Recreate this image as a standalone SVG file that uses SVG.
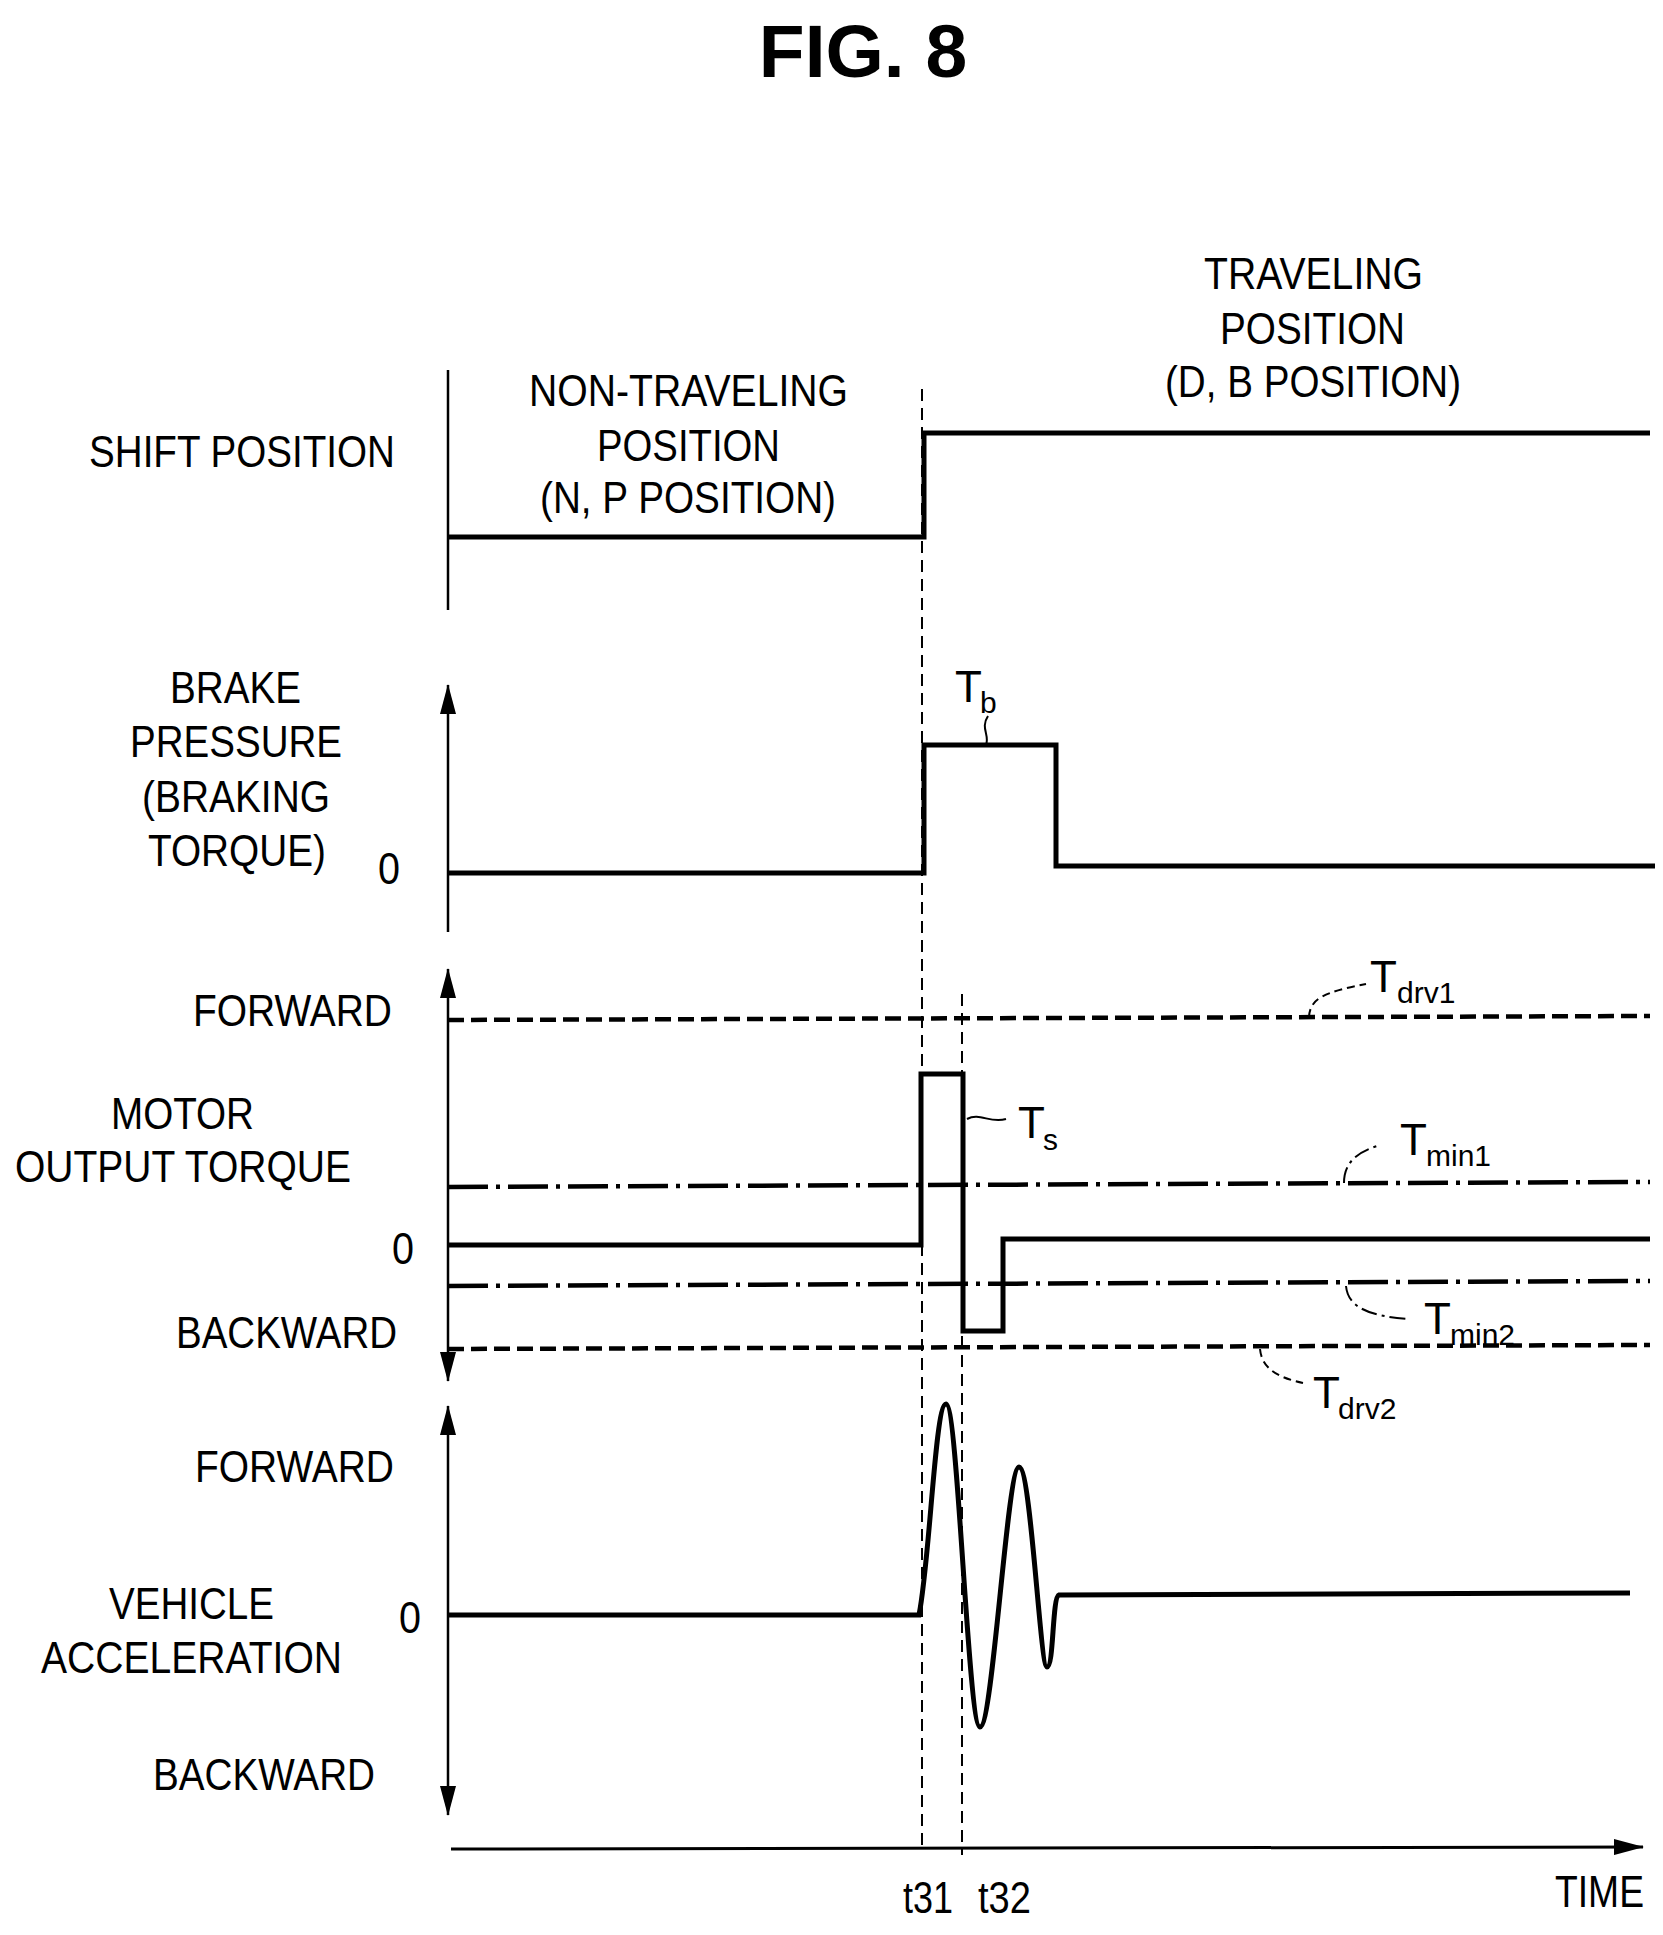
<svg xmlns="http://www.w3.org/2000/svg" width="1663" height="1935" viewBox="0 0 1663 1935">
<style>
text{font-family:"Liberation Sans",Arial,sans-serif;font-size:44px;fill:#000}
.t{font-size:44px}
.s{font-size:30px}
.w{fill:none;stroke:#000;stroke-width:5}
.ax{fill:none;stroke:#000;stroke-width:2.5}
.vd{fill:none;stroke:#000;stroke-width:2;stroke-dasharray:12 7}
.dd{fill:none;stroke:#000;stroke-width:4.5;stroke-dasharray:16 7}
.dc{fill:none;stroke:#000;stroke-width:4.5;stroke-dasharray:40 8 4 8}
.ld{fill:none;stroke:#000;stroke-width:2;stroke-dasharray:8 5}
.ldc{fill:none;stroke:#000;stroke-width:2;stroke-dasharray:16 5 3 5}
.l{fill:none;stroke:#000;stroke-width:2}
</style>
<defs>
<marker id="ah" viewBox="0 0 30 16" refX="29" refY="8" markerWidth="30" markerHeight="16" markerUnits="userSpaceOnUse" orient="auto-start-reverse"><path d="M0,0 L30,8 L0,16 z" fill="#000"/></marker>
</defs>
<text x="863" y="77" text-anchor="middle" style="font-size:75px;font-weight:bold">FIG. 8</text>

<g id="shift">
<text x="89" y="467" textLength="306" lengthAdjust="spacingAndGlyphs">SHIFT POSITION</text>
<text x="529" y="406" textLength="319" lengthAdjust="spacingAndGlyphs">NON-TRAVELING</text>
<text x="597" y="461" textLength="183" lengthAdjust="spacingAndGlyphs">POSITION</text>
<text x="540" y="513" textLength="296" lengthAdjust="spacingAndGlyphs">(N, P POSITION)</text>
<text x="1204" y="289" textLength="219" lengthAdjust="spacingAndGlyphs">TRAVELING</text>
<text x="1220" y="344" textLength="185" lengthAdjust="spacingAndGlyphs">POSITION</text>
<text x="1165" y="397" textLength="296" lengthAdjust="spacingAndGlyphs">(D, B POSITION)</text>
<line class="ax" x1="448" y1="370" x2="448" y2="610"/>
<polyline class="w" points="448,537 924,537 924,433 1650,433"/>
</g>

<g id="brake">
<text x="170" y="703" textLength="131" lengthAdjust="spacingAndGlyphs">BRAKE</text>
<text x="130" y="757" textLength="212" lengthAdjust="spacingAndGlyphs">PRESSURE</text>
<text x="142" y="812" textLength="188" lengthAdjust="spacingAndGlyphs">(BRAKING</text>
<text x="148" y="866" textLength="178" lengthAdjust="spacingAndGlyphs">TORQUE)</text>
<text x="378" y="884" textLength="22" lengthAdjust="spacingAndGlyphs">0</text>
<line class="ax" x1="448" y1="932" x2="448" y2="685" marker-end="url(#ah)"/>
<polyline class="w" points="448,873 924,873 924,745 1056,745 1056,866 1655,866"/>
<text x="955" y="702" class="t">T</text><text x="980" y="713" class="s">b</text>
<path class="l" d="M986,745 C990,735 980,728 988,716"/>
</g>

<g id="motor">
<text x="193" y="1026" textLength="199" lengthAdjust="spacingAndGlyphs">FORWARD</text>
<text x="111" y="1129" textLength="143" lengthAdjust="spacingAndGlyphs">MOTOR</text>
<text x="15" y="1182" textLength="336" lengthAdjust="spacingAndGlyphs">OUTPUT TORQUE</text>
<text x="392" y="1264" textLength="22" lengthAdjust="spacingAndGlyphs">0</text>
<text x="176" y="1348" textLength="221" lengthAdjust="spacingAndGlyphs">BACKWARD</text>
<line class="ax" x1="448" y1="1381" x2="448" y2="969" marker-start="url(#ah)" marker-end="url(#ah)"/>
<path class="dd" d="M448,1020 L1650,1016"/>
<path class="dc" d="M448,1187 L1650,1182"/>
<path class="dc" d="M448,1286 L1650,1281"/>
<path class="dd" d="M448,1349 L1650,1345"/>
<polyline class="w" points="448,1245 921,1245 921,1074 963,1074 963,1331 1003,1331 1003,1239 1650,1239"/>
<text x="1370" y="992" class="t">T</text><text x="1397" y="1003" class="s">drv1</text>
<path class="ld" d="M1309,1017 C1310,998 1325,992 1366,984"/>
<text x="1018" y="1138" class="t">T</text><text x="1043" y="1150" class="s">s</text>
<path class="l" d="M967,1119 C980,1112 990,1124 1006,1119"/>
<text x="1400" y="1155" class="t">T</text><text x="1426" y="1166" class="s">min1</text>
<path class="ldc" d="M1344,1183 C1344,1162 1358,1152 1377,1146"/>
<text x="1424" y="1334" class="t">T</text><text x="1450" y="1345" class="s">min2</text>
<path class="ldc" d="M1346,1286 C1348,1308 1370,1316 1408,1319"/>
<text x="1313" y="1408" class="t">T</text><text x="1338" y="1419" class="s">drv2</text>
<path class="ld" d="M1260,1349 C1262,1370 1280,1378 1303,1383"/>
</g>

<g id="accel">
<text x="195" y="1482" textLength="199" lengthAdjust="spacingAndGlyphs">FORWARD</text>
<text x="109" y="1619" textLength="165" lengthAdjust="spacingAndGlyphs">VEHICLE</text>
<text x="41" y="1673" textLength="301" lengthAdjust="spacingAndGlyphs">ACCELERATION</text>
<text x="399" y="1633" textLength="22" lengthAdjust="spacingAndGlyphs">0</text>
<text x="153" y="1790" textLength="222" lengthAdjust="spacingAndGlyphs">BACKWARD</text>
<line class="ax" x1="448" y1="1815" x2="448" y2="1406" marker-start="url(#ah)" marker-end="url(#ah)"/>
<path class="w" d="M448,1615 L919,1615 C930,1560 935,1404 946,1404 C958,1404 968,1727 980,1727 C993,1727 1007,1467 1019,1467 C1031,1467 1040,1667 1047,1667 C1054,1667 1052,1597 1059,1595 L1630,1593"/>
</g>

<g id="connectors">
<line class="vd" x1="922" y1="389" x2="922" y2="1845"/>
<line class="vd" x1="962" y1="994" x2="962" y2="1855"/>
<line class="ax" x1="451" y1="1849" x2="1643" y2="1847" style="stroke-width:3" marker-end="url(#ah)"/>
<text x="903" y="1913" textLength="50" lengthAdjust="spacingAndGlyphs">t31</text>
<text x="978" y="1913" textLength="53" lengthAdjust="spacingAndGlyphs">t32</text>
<text x="1555" y="1907" textLength="89" lengthAdjust="spacingAndGlyphs">TIME</text>
</g>
</svg>
